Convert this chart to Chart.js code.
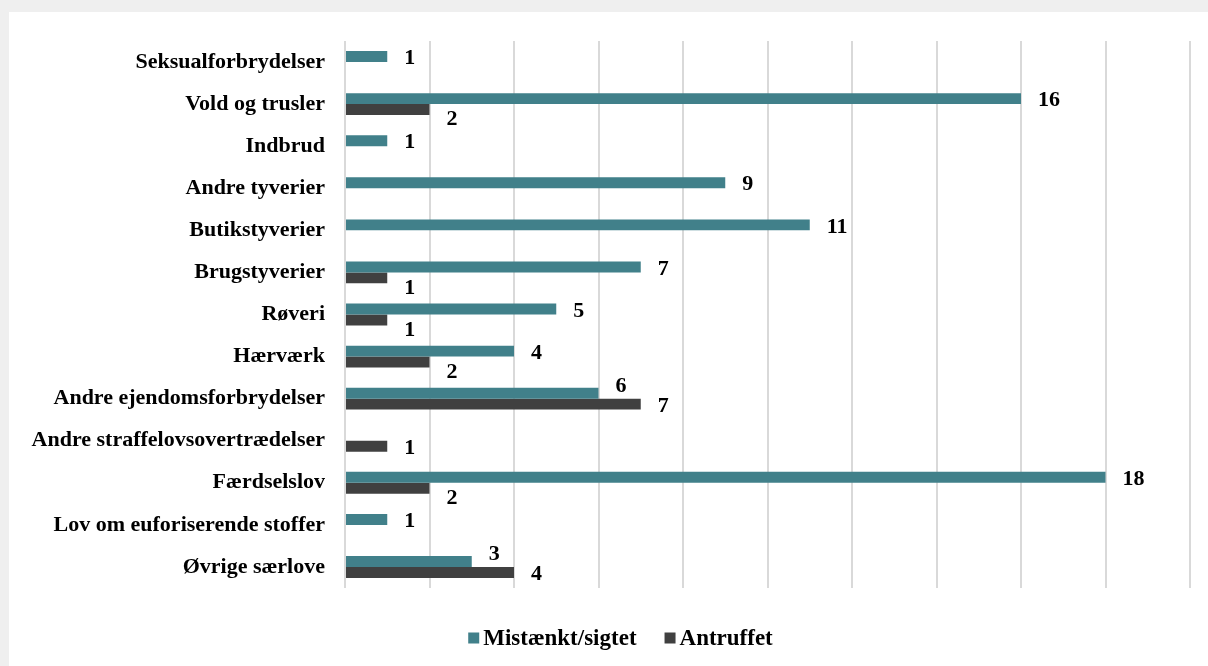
<!DOCTYPE html>
<html>
<head>
<meta charset="utf-8">
<script src="https://cdn.jsdelivr.net/npm/chart.js@4.4.1/dist/chart.umd.min.js"></script>
<style>
  html, body { margin: 0; padding: 0; background: #efefef; width: 1208px; height: 666px; overflow: hidden; }
  #panel { position: absolute; left: 9px; top: 12px; width: 1199px; height: 654px; background: #ffffff; }
  canvas { display: block; }
</style>
</head>
<body>
<div id="panel"><canvas id="c" width="1199" height="654"></canvas></div>
<script>
const categories = [
  "Seksualforbrydelser",
  "Vold og trusler",
  "Indbrud",
  "Andre tyverier",
  "Butikstyverier",
  "Brugstyverier",
  "Røveri",
  "Hærværk",
  "Andre ejendomsforbrydelser",
  "Andre straffelovsovertrædelser",
  "Færdselslov",
  "Lov om euforiserende stoffer",
  "Øvrige særlove"
];
const mistaenkt = [1, 16, 1, 9, 11, 7, 5, 4, 6, 0, 18, 1, 3];
const antruffet = [0, 2, 0, 0, 0, 1, 1, 2, 7, 1, 2, 0, 4];
const seriesNames = ["Mistænkt/sigtet", "Antruffet"];
const xMax = 20;
const xStep = 2;

const FONT = "'Liberation Serif', 'Times New Roman', serif";
const FSIZE = 22;

const labelPlugin = {
  id: 'barLabels',
  afterDatasetsDraw(chart) {
    const ctx = chart.ctx;
    ctx.save();
    ctx.font = "bold " + FSIZE + "px " + FONT;
    ctx.fillStyle = "#000";
    ctx.textAlign = "left";
    ctx.textBaseline = "middle";
    const ds = chart.data.datasets;
    ds.forEach((d, i) => {
      const meta = chart.getDatasetMeta(i);
      meta.data.forEach((bar, j) => {
        const v = d.data[j];
        if (!v) return;
        const other = ds[1 - i].data[j];
        let dy = 2;
        if (other > v) dy = (i === 0) ? -7 : 10;
        ctx.fillText(String(v), bar.x + 17, bar.y + dy);
      });
    });
    ctx.restore();
  }
};

// Legend drawn from the chart's datasets (box, small gap, text, wider gap between items)
const legendPlugin = {
  id: 'customLegend',
  afterDraw(chart) {
    const ctx = chart.ctx;
    ctx.save();
    ctx.font = "bold 23px " + FONT;
    ctx.textBaseline = "middle";
    ctx.textAlign = "left";
    const box = 11, gapText = 4, gapItem = 28;
    const items = chart.data.datasets.map(d => ({ text: d.label, color: d.backgroundColor, w: ctx.measureText(d.label).width }));
    let total = 0;
    items.forEach((it, k) => { total += box + gapText + it.w + (k < items.length - 1 ? gapItem : 0); });
    const cx = chart.width / 2 + 12;
    const cy = 626;
    let x = cx - total / 2;
    items.forEach(it => {
      ctx.fillStyle = it.color;
      ctx.fillRect(x, cy - box / 2, box, box);
      x += box + gapText;
      ctx.fillStyle = '#000';
      ctx.fillText(it.text, x, cy + 1);
      x += it.w + gapItem;
    });
    ctx.restore();
  }
};

new Chart(document.getElementById('c'), {
  type: 'bar',
  data: {
    labels: categories,
    datasets: [
      { label: seriesNames[0], data: mistaenkt, backgroundColor: '#41808a', barPercentage: 1, categoryPercentage: 0.52 },
      { label: seriesNames[1], data: antruffet, backgroundColor: '#404040', barPercentage: 1, categoryPercentage: 0.52 }
    ]
  },
  options: {
    indexAxis: 'y',
    responsive: false,
    animation: false,
    devicePixelRatio: 1,
    layout: { padding: { top: 29, bottom: 0, left: 0, right: 18 } },
    scales: {
      x: {
        min: 0, max: xMax,
        ticks: { display: false, stepSize: xStep },
        grid: { color: '#d9d9d9', lineWidth: 2, drawTicks: false },
        border: { display: false },
        afterFit(axis) { axis.height = 78; axis.paddingLeft = 0; axis.paddingRight = 0; }
      },
      y: {
        ticks: { color: '#000', font: { family: FONT, size: FSIZE, weight: 'bold' }, padding: 20 },
        grid: { display: false, drawTicks: false },
        border: { display: false },
        afterFit(axis) { axis.width = 336; axis.paddingTop = 0; axis.paddingBottom = 0; }
      }
    },
    plugins: {
      legend: { display: false },
      tooltip: { enabled: false }
    }
  },
  plugins: [labelPlugin, legendPlugin]
});
</script>
</body>
</html>
